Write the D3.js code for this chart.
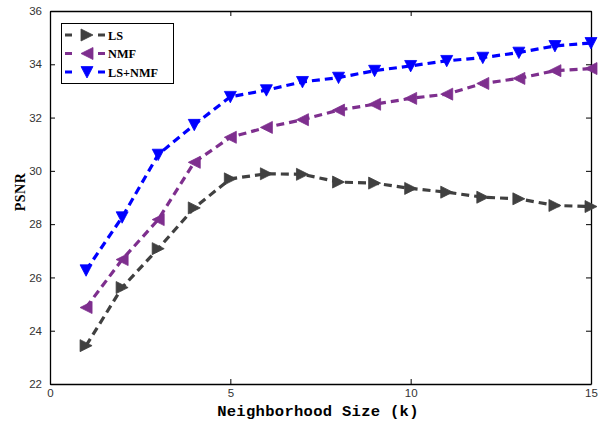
<!DOCTYPE html>
<html>
<head>
<meta charset="utf-8">
<script src="https://cdn.jsdelivr.net/npm/d3@7"></script>
<style>
  html, body { margin: 0; padding: 0; background: #fff; }
  svg { display: block; }
</style>
</head>
<body>
<svg id="chart" width="606" height="421"></svg>
<script>
// Neighborhood size k and PSNR for each method
const kValues = [1, 2, 3, 4, 5, 6, 7, 8, 9, 10, 11, 12, 13, 14, 15];
const lsPsnr = [23.44, 25.62, 27.08, 28.61, 29.70, 29.89, 29.87, 29.58, 29.54, 29.34, 29.20, 29.01, 28.95, 28.70, 28.66];
const nmfPsnr = [24.87, 26.67, 28.17, 30.32, 31.26, 31.63, 31.92, 32.28, 32.50, 32.72, 32.88, 33.28, 33.47, 33.76, 33.84];
const lsNmfPsnr = [26.27, 28.26, 30.61, 31.73, 32.78, 33.03, 33.34, 33.50, 33.76, 33.94, 34.13, 34.25, 34.44, 34.69, 34.80];
const xTicks = [0, 5, 10, 15];
const yTicks = [22, 24, 26, 28, 30, 32, 34, 36];

const series = [
  { name: "LS", values: lsPsnr, color: "#404040", marker: "right" },
  { name: "NMF", values: nmfPsnr, color: "#7e2f8e", marker: "left" },
  { name: "LS+NMF", values: lsNmfPsnr, color: "#0000ff", marker: "down" }
];

const svg = d3.select("#chart");
const plotL = 50, plotR = 591, plotT = 11, plotB = 384;

const x = d3.scaleLinear().domain([0, 15]).range([plotL, plotR]);
const y = d3.scaleLinear().domain([22, 36]).range([plotB, plotT]);

// Triangle path centred on (0,0)
function tri(dir, s) {
  const h = s * 0.5;
  if (dir === "right") return `M${-h},${-h}L${h},0L${-h},${h}Z`;
  if (dir === "left") return `M${h},${-h}L${-h},0L${h},${h}Z`;
  return `M${-h},${-h * 0.9}L${h},${-h * 0.9}L0,${h}Z`;
}

// Axes: ticks point inward, mirrored on the opposite sides
const tickFont = "Liberation Sans, Arial, sans-serif";
const axB = svg.append("g").attr("transform", `translate(0,${plotB})`)
  .call(d3.axisBottom(x).tickValues(xTicks).tickSizeInner(-5).tickSizeOuter(0).tickPadding(5));
const axL = svg.append("g").attr("transform", `translate(${plotL},0)`)
  .call(d3.axisLeft(y).tickValues(yTicks).tickSizeInner(-5).tickSizeOuter(0).tickPadding(8));
const axT = svg.append("g").attr("transform", `translate(0,${plotT})`)
  .call(d3.axisTop(x).tickValues(xTicks).tickSizeInner(-5).tickSizeOuter(0).tickFormat(""));
const axR = svg.append("g").attr("transform", `translate(${plotR},0)`)
  .call(d3.axisRight(y).tickValues(yTicks).tickSizeInner(-5).tickSizeOuter(0).tickFormat(""));
[axB, axL, axT, axR].forEach(a => {
  a.select(".domain").attr("stroke", "#000").attr("stroke-width", 1.3);
  a.selectAll(".tick line").attr("stroke", "#000").attr("stroke-width", 1);
  a.selectAll(".tick text").attr("font-family", tickFont).attr("font-size", 11.5).attr("fill", "#333");
});

// Series lines and markers
const line = d3.line().x((d, i) => x(kValues[i])).y(d => y(d));
series.forEach(s => {
  svg.append("path")
    .attr("d", line(s.values))
    .attr("fill", "none")
    .attr("stroke", s.color)
    .attr("stroke-width", 3.2)
    .attr("stroke-dasharray", "8,5");
  svg.append("g").selectAll("path")
    .data(s.values)
    .join("path")
    .attr("transform", (d, i) => `translate(${x(kValues[i])},${y(d)})`)
    .attr("d", tri(s.marker, 12))
    .attr("fill", s.color)
    .attr("stroke", s.color)
    .attr("stroke-width", 0.8);
});

// Legend
const lg = svg.append("g");
lg.append("rect").attr("x", 61.5).attr("y", 23.5).attr("width", 112).attr("height", 60)
  .attr("fill", "#fff").attr("stroke", "#000").attr("stroke-width", 1);
series.forEach((s, i) => {
  const cy = 35 + i * 18.5;
  lg.append("line").attr("x1", 65).attr("x2", 105).attr("y1", cy).attr("y2", cy)
    .attr("stroke", s.color).attr("stroke-width", 3.2).attr("stroke-dasharray", "7,26,7");
  lg.append("path").attr("transform", `translate(87,${cy})`).attr("d", tri(s.marker, 12))
    .attr("fill", s.color).attr("stroke", s.color).attr("stroke-width", 0.8);
  lg.append("text").attr("x", 108).attr("y", cy + 4.5)
    .attr("font-family", "Liberation Serif, Times New Roman, serif").attr("font-weight", "bold")
    .attr("font-size", 12.3).attr("fill", "#000").text(s.name);
});

// Axis titles
svg.append("text").attr("x", 318).attr("y", 416)
  .attr("text-anchor", "middle")
  .attr("font-family", "Liberation Mono, Courier New, monospace").attr("font-weight", "bold")
  .attr("font-size", 15.5).attr("letter-spacing", 0.3).attr("fill", "#000").text("Neighborhood Size (k)");
svg.append("text").attr("transform", `translate(25,192) rotate(-90)`)
  .attr("text-anchor", "middle")
  .attr("font-family", "Liberation Serif, Times New Roman, serif").attr("font-weight", "bold")
  .attr("font-size", 14).attr("letter-spacing", 0.5).attr("fill", "#000").text("PSNR");
</script>
</body>
</html>
